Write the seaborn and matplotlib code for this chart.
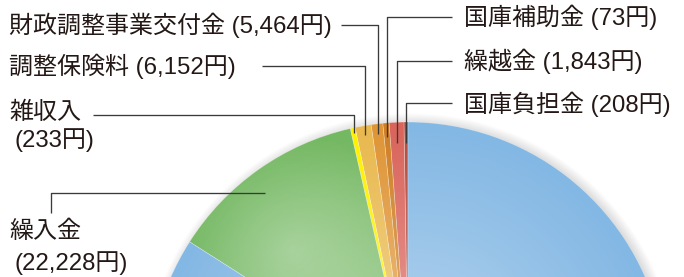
import numpy as np
import matplotlib
matplotlib.use("Agg")
import matplotlib.pyplot as plt
import seaborn as sns
from matplotlib.patches import Circle

# ---------------- data ----------------
categories = ["国庫負担金", "繰越金", "国庫補助金", "財政調整事業交付金", "調整保険料", "雑収入", "繰入金"]
amounts = [208, 1843, 73, 5464, 6152, 233, 22228]
# wedge sizes as drawn in the picture (degrees), counter-clockwise from 12 o'clock
wedge_deg = [0.9, 3.3, 1.4, 2.6, 3.6, 1.1, 44.6]
rest_deg = [302.5]          # large blue slice whose label is outside the view

colors = ["#b24a3d", "#d9645b", "#cf7f24", "#df9536", "#e9b94f", "#fff000", "#74b862"]
rest_color = ["#84b8e4"]

sns.set_theme(style="white")
plt.rcParams['font.family'] = ['Liberation Sans', 'Noto Sans CJK JP', 'DejaVu Sans']

W, H = 684, 277
fig = plt.figure(figsize=(W / 100, H / 100), dpi=100)
ax = fig.add_axes([0, 0, 1, 1])

cx, cy_px, R = 408, 381, 259
cy = H - cy_px


def Y(py):
    return H - py


# ---- soft drop shadow ----
gx = np.linspace(0, W, 700)
gy = np.linspace(0, H, 300)
GX, GY = np.meshgrid(gx, gy)
d = np.hypot(GX - (cx + 3), GY - cy) - R
sh = np.zeros(GX.shape + (4,))
sh[..., :3] = 0.45
sh[..., 3] = np.where(d > -4, 0.30 * np.clip(1 - (d + 4) / 13, 0, 1), 0.0)
ax.imshow(sh, extent=(0, W, 0, H), origin='lower', zorder=0.5, interpolation='bilinear')

# ---- pie ----
wedges, _ = ax.pie(wedge_deg + rest_deg, colors=colors + rest_color, startangle=90,
                   counterclock=True, center=(cx, cy), radius=R,
                   wedgeprops=dict(linewidth=0.5, edgecolor=(1, 1, 1, 0.35)))
for w in wedges:
    w.set_zorder(1)

# ---- radial light gradient over the pie ----
n = 500
xs = np.linspace(cx - R, cx + R, n)
ys = np.linspace(cy - R, cy + R, n)
X, Yg = np.meshgrid(xs, ys)
r = np.hypot(X - cx, Yg - cy) / R
img = np.zeros((n, n, 4))
img[..., :3] = 1
img[..., 3] = np.clip(0.45 * (1 - r) ** 1.1, 0, 1)
im = ax.imshow(img, extent=(cx - R, cx + R, cy - R, cy + R), origin='lower',
               zorder=2, interpolation='bilinear')
im.set_clip_path(Circle((cx, cy), R, transform=ax.transData))

# highlight inside the green wedge
hx, hy, hr = 293, Y(250), 120
xs2 = np.linspace(hx - hr, hx + hr, 300)
ys2 = np.linspace(hy - hr, hy + hr, 300)
X2, Y2 = np.meshgrid(xs2, ys2)
r2 = np.hypot(X2 - hx, Y2 - hy) / hr
img2 = np.zeros((300, 300, 4))
img2[..., :3] = 1
img2[..., 3] = np.clip(0.28 * (1 - r2), 0, 1)
im2 = ax.imshow(img2, extent=(hx - hr, hx + hr, hy - hr, hy + hr), origin='lower',
                zorder=2.1, interpolation='bilinear')
im2.set_clip_path(wedges[6])

# ---- labels and leader lines ----
cum = np.concatenate([[0], np.cumsum(wedge_deg)])
mid = cum[:-1] + np.array(wedge_deg) / 2


def wedge_x(i, py):
    return cx - (cy_px - py) * np.tan(np.radians(mid[i]))


txt_kw = dict(fontsize=17.3, color="#231815", va='center', ha='left', zorder=5)
line_kw = dict(color="#3a3a3a", lw=0.95, zorder=4, solid_capstyle='butt')

# single-line labels: (index, text x, text y, line start x, line y, line end y)
single = [
    (3, 9, 25, 341, 25, 134),
    (4, 9, 66, 262, 66, 135),
    (2, 464, 17, 452, 17, 137),
    (1, 464, 61, 452, 61, 143),
    (0, 464, 104, 452, 103, 143),
]
for i, tx, ty, lx, ly, ey in single:
    ax.text(tx, Y(ty), f"{categories[i]} ({amounts[i]:,}円)", **txt_kw)
    xw = wedge_x(i, ey)
    ax.plot([lx, xw, xw], [Y(ly), Y(ly), Y(ey)], **line_kw)

# 雑収入 (two lines)
i = 5
ax.text(9, Y(113), categories[i], **txt_kw)
ax.text(14, Y(140), f"({amounts[i]:,}円)", **txt_kw)
xw = wedge_x(i, 133)
ax.plot([93, xw, xw], [Y(115), Y(115), Y(133)], **line_kw)

# 繰入金 (two lines)
i = 6
ax.text(9, Y(232), categories[i], **txt_kw)
ax.text(14, Y(263), f"({amounts[i]:,}円)", **txt_kw)
ax.plot([51, 51, 265], [Y(213), Y(193), Y(193)], **line_kw)

ax.set_xlim(0, W)
ax.set_ylim(0, H)
ax.set_aspect('auto')
ax.axis('off')

fig.savefig("out.png", dpi=100)
